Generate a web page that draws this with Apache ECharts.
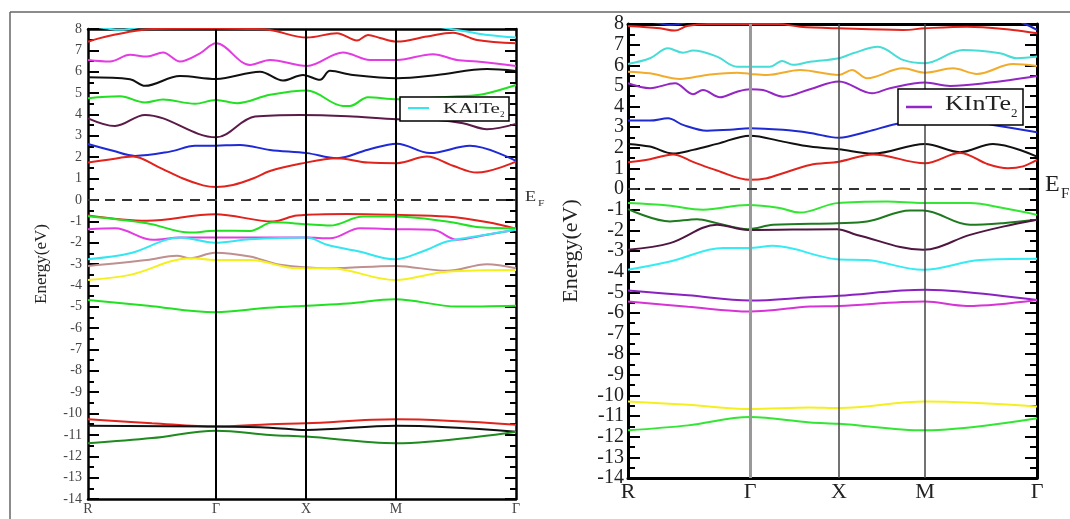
<!DOCTYPE html>
<html><head><meta charset="utf-8">
<script src="https://cdn.jsdelivr.net/npm/echarts@6/dist/echarts.min.js"></script>
<style>html,body{margin:0;padding:0;background:#fff}#c{width:1070px;height:519px}</style>
</head><body><div id="c"></div>
<script>
// ---------- tick labels ----------
const kPathLabels = ['R', 'Γ', 'X', 'M', 'Γ'];
const kalTicks = [0, 128, 218, 308, 428];   // KAlTe2 k-path positions
const kinTicks = [0, 122, 211, 297, 409];   // KInTe2 k-path positions
const energyMin = -14, energyMax = 8;

// ---------- KAlTe2 bands [k, E(eV)] ----------
const kal_cyanTop = [[0,8.2],[20,8.02],[32,7.96],[45,8.03],[60,8.2],[340,8.2],[359,8.03],[380,7.87],[400,7.72],[428,7.6]];
const kal_red8 = [[0,7.4],[10,7.55],[25,7.72],[45,7.9],[65,8.0],[128,8.02],[160,8.0],[182,7.95],[219,7.6],[249,7.8],[269,7.46],[280,7.72],[292,7.58],[309,7.41],[339,7.65],[365,7.83],[389,7.49],[428,7.33]];
const kal_magenta7 = [[0,6.55],[22,6.48],[42,6.79],[59,6.71],[75,6.9],[92,6.48],[112,6.86],[128,7.33],[162,6.32],[182,6.55],[219,6.27],[255,6.9],[282,6.55],[309,6.55],[345,6.82],[369,6.55],[389,6.48],[428,6.27]];
const kal_black6 = [[0,5.74],[42,5.65],[57,5.34],[92,5.8],[128,5.66],[172,6.0],[195,5.59],[215,5.85],[232,5.62],[242,6.04],[265,5.85],[309,5.7],[349,5.85],[399,6.13],[428,6.04]];
const kal_green5 = [[0,4.76],[32,4.85],[57,4.56],[75,4.7],[107,4.5],[128,4.68],[149,4.53],[182,4.92],[219,5.12],[255,4.4],[262,4.4],[280,4.81],[309,4.71],[345,4.78],[370,4.85],[395,4.95],[428,5.38]];
const kal_maroon4 = [[0,3.82],[27,3.46],[57,3.98],[128,2.93],[167,3.9],[212,3.98],[260,3.92],[309,3.78],[350,3.74],[375,3.59],[399,3.31],[428,3.56]];
const kal_blue3 = [[0,2.62],[25,2.3],[47,2.06],[82,2.26],[107,2.53],[128,2.54],[152,2.57],[182,2.34],[219,2.19],[249,1.95],[280,2.35],[309,2.63],[342,2.19],[382,2.53],[428,1.83]];
const kal_redCB = [[0,1.75],[20,1.88],[45,2.03],[70,1.55],[95,1.0],[115,0.68],[128,0.6],[145,0.7],[165,1.0],[182,1.35],[212,1.69],[249,1.95],[280,1.75],[309,1.72],[339,2.03],[365,1.6],[389,1.28],[428,1.79]];
const kal_redVB = [[0,-0.73],[59,-0.98],[127,-0.67],[185,-1.01],[209,-0.73],[259,-0.66],[307,-0.70],[359,-0.78],[400,-1.05],[428,-1.35]];
const kal_greenVB = [[0,-0.76],[59,-1.09],[102,-1.53],[127,-1.44],[162,-1.45],[185,-1.05],[219,-1.14],[242,-1.2],[275,-0.78],[307,-0.78],[359,-1.01],[392,-1.28],[428,-1.33]];
const kal_magentaVB = [[0,-1.37],[27,-1.33],[65,-1.87],[92,-1.76],[127,-1.76],[219,-1.76],[242,-1.8],[272,-1.33],[307,-1.37],[345,-1.4],[369,-1.87],[392,-1.69],[428,-1.4]];
const kal_cyanVB = [[0,-2.78],[42,-2.5],[92,-1.76],[127,-2.0],[162,-1.84],[219,-1.76],[239,-2.1],[270,-2.4],[307,-2.78],[335,-2.4],[359,-1.95],[395,-1.65],[428,-1.4]];
const kal_tanVB = [[0,-3.09],[59,-2.81],[89,-2.61],[102,-2.73],[127,-2.47],[162,-2.65],[192,-3.04],[242,-3.2],[307,-3.09],[359,-3.32],[399,-3.01],[428,-3.2]];
const kal_yellowVB = [[0,-3.75],[42,-3.51],[102,-2.73],[127,-2.81],[162,-2.81],[209,-3.2],[242,-3.2],[307,-3.75],[359,-3.36],[428,-3.28]];
const kal_green5VB = [[0,-4.68],[60,-4.95],[127,-5.26],[180,-5.05],[219,-4.95],[260,-4.85],[307,-4.65],[369,-4.99],[428,-4.95]];
const kal_redSC = [[0,-10.27],[64,-10.45],[128,-10.61],[182,-10.5],[218,-10.46],[308,-10.27],[428,-10.53]];
const kal_blackSC = [[0,-10.57],[128,-10.61],[182,-10.66],[218,-10.77],[308,-10.57],[428,-10.85]];
const kal_dgreenSC = [[0,-11.39],[64,-11.15],[128,-10.8],[182,-11.0],[218,-11.08],[308,-11.39],[428,-10.85]];

// ---------- KInTe2 bands [k, E(eV)] ----------
const kin_blueTop = [[0,8.3],[30,8.05],[42,7.95],[55,8.05],[80,8.3],[380,8.3],[397,8.0],[409,7.72]];
const kin_red8 = [[0,7.9],[32,7.79],[47,7.68],[59,7.9],[80,8.0],[150,8.0],[172,7.87],[211,7.79],[275,7.71],[297,7.79],[339,7.87],[385,7.71],[409,7.55]];
const kin_turq6 = [[0,6.06],[22,6.34],[40,6.82],[55,6.61],[65,6.71],[89,6.42],[109,5.93],[142,5.93],[154,6.21],[165,6.02],[182,6.17],[211,6.34],[225,6.58],[250,6.9],[275,6.26],[297,6.1],[335,6.74],[372,6.58],[389,6.34],[409,6.42]];
const kin_orange5 = [[0,5.69],[22,5.61],[52,5.34],[79,5.53],[109,5.64],[122,5.58],[139,5.53],[172,5.77],[211,5.53],[224,5.77],[239,5.37],[275,5.85],[297,5.64],[325,5.85],[349,5.58],[385,6.06],[409,5.97]];
const kin_purple5 = [[0,5.13],[22,4.89],[47,5.13],[65,4.6],[75,4.8],[92,4.45],[109,4.72],[122,4.84],[135,4.8],[155,4.48],[182,4.84],[211,5.21],[244,4.64],[262,4.89],[297,5.16],[322,5.0],[360,5.15],[409,5.48]];
const kin_blue3 = [[0,3.32],[22,3.32],[40,3.43],[55,3.11],[79,2.83],[102,2.87],[122,2.95],[155,2.87],[182,2.72],[211,2.49],[239,2.78],[272,3.19],[310,3.35],[340,3.3],[365,3.11],[409,2.75]];
const kin_black2 = [[0,2.19],[22,2.06],[45,1.72],[65,1.9],[89,2.19],[122,2.59],[155,2.3],[182,2.06],[211,1.93],[245,1.72],[297,2.19],[332,1.79],[365,2.19],[409,1.57]];
const kin_redCB = [[0,1.3],[22,1.45],[45,1.68],[65,1.32],[89,0.9],[122,0.45],[139,0.53],[155,0.77],[182,1.17],[211,1.33],[245,1.68],[297,1.25],[332,1.75],[360,1.2],[380,1.01],[395,1.1],[409,1.41]];
const kin_greenVB = [[0,-0.68],[40,-0.8],[75,-1.0],[120,-0.77],[150,-0.9],[172,-1.14],[209,-0.68],[259,-0.6],[295,-0.68],[342,-0.68],[375,-0.92],[409,-1.25]];
const kin_dgreenVB = [[0,-0.97],[42,-1.57],[69,-1.46],[89,-1.65],[120,-1.94],[145,-1.73],[209,-1.65],[239,-1.57],[282,-1.04],[295,-1.04],[342,-1.73],[375,-1.65],[409,-1.49]];
const kin_maroonVB = [[0,-2.94],[42,-2.62],[89,-1.73],[120,-1.98],[209,-1.94],[229,-2.22],[295,-2.94],[342,-2.22],[375,-1.82],[409,-1.49]];
const kin_cyanVB = [[0,-3.91],[42,-3.51],[95,-2.86],[120,-2.86],[145,-2.75],[209,-3.4],[239,-3.44],[295,-3.91],[352,-3.44],[409,-3.38]];
const kin_purpleVB = [[0,-4.91],[60,-5.15],[122,-5.4],[182,-5.24],[211,-5.17],[297,-4.88],[332,-4.96],[409,-5.37]];
const kin_magentaVB = [[0,-5.45],[60,-5.7],[122,-5.93],[182,-5.69],[211,-5.66],[297,-5.45],[339,-5.66],[409,-5.37]];
const kin_yellowSC = [[0,-10.29],[60,-10.45],[122,-10.66],[182,-10.58],[211,-10.61],[297,-10.29],[409,-10.53]];
const kin_greenSC = [[0,-11.69],[60,-11.45],[122,-11.05],[182,-11.31],[211,-11.37],[297,-11.69],[409,-11.1]];

// ---------- build ----------
const SERIF = 'Liberation Serif';
const kalBands = [
  [kal_cyanTop,'#33e6f0'],[kal_red8,'#e0231c'],[kal_magenta7,'#e23ce2'],[kal_black6,'#111111'],
  [kal_green5,'#22e022'],[kal_maroon4,'#5c1a48'],[kal_blue3,'#1f2ad6'],[kal_redCB,'#e0231c'],
  [kal_redVB,'#e0231c'],[kal_greenVB,'#22e022'],[kal_magentaVB,'#e23ce2'],[kal_cyanVB,'#33e6f0'],
  [kal_tanVB,'#bf9090'],[kal_yellowVB,'#f4f020'],[kal_green5VB,'#22e022'],
  [kal_redSC,'#e0231c'],[kal_blackSC,'#111111'],[kal_dgreenSC,'#1f8a1f']
];
const kinBands = [
  [kin_blueTop,'#2028c8'],[kin_red8,'#e0231c'],[kin_turq6,'#48dcd6'],[kin_orange5,'#f2ac2c'],
  [kin_purple5,'#9426c4'],[kin_blue3,'#1f2ad0'],[kin_black2,'#111111'],[kin_redCB,'#e0231c'],
  [kin_greenVB,'#33e633'],[kin_dgreenVB,'#1f7a1f'],[kin_maroonVB,'#4e1640'],[kin_cyanVB,'#36ecf4'],
  [kin_purpleVB,'#8a22c0'],[kin_magentaVB,'#d634d6'],[kin_yellowSC,'#f4f020'],[kin_greenSC,'#33e633']
];

function band(d, c, xi, yi) {
  return {type:'line', data:d, xAxisIndex:xi, yAxisIndex:yi, showSymbol:false, smooth:0.35,
          clip:true, silent:true, z:3, lineStyle:{color:c, width:2}, itemStyle:{color:c}};
}
function guides(ticks, xi, yi, vStyleFn) {
  const data = ticks.slice(1, -1).map((t, i) => ({xAxis:t, lineStyle:vStyleFn(i)}));
  data.push({yAxis:0, lineStyle:{color:'#333', width:2, type:[10,7]}});
  return {type:'line', data:[], xAxisIndex:xi, yAxisIndex:yi, z:2,
          markLine:{symbol:'none', silent:true, animation:false, label:{show:false}, data:data}};
}

function kLabel(ticks) {
  return v => { const i = ticks.indexOf(v); return i >= 0 ? kPathLabels[i] : ''; };
}

const series = [];
series.push(guides(kalTicks, 0, 0, () => ({color:'#000', width:2, type:'solid'})));
series.push(guides(kinTicks, 2, 2, i => i === 0 ? {color:'#999', width:3, type:'solid'} : {color:'#444', width:1.5, type:'solid'}));
kalBands.forEach(b => series.push(band(b[0], b[1], 0, 0)));
kinBands.forEach(b => series.push(band(b[0], b[1], 2, 2)));

function yAx(gi, pos, opts) {
  return {type:'value', gridIndex:gi, position:pos, min:energyMin, max:energyMax, interval:1,
    axisLine:{show:true, onZero:false, lineStyle:{color:'#000', width:opts.lw}},
    axisTick:{show:true, inside:true, length:opts.tl, lineStyle:{color:'#000', width:2}},
    minorTick:{show:true, splitNumber:2, length:opts.ml, lineStyle:{color:'#000', width:2}},
    splitLine:{show:false},
    axisLabel:{show:opts.labels, margin:opts.margin, fontFamily:SERIF, fontSize:opts.fs, color:opts.col,
               showMinLabel:true, showMaxLabel:true, hideOverlap:false},
    name:opts.labels ? 'Energy(eV)' : '', nameLocation:'middle', nameGap:opts.ng,
    nameTextStyle:{fontFamily:SERIF, fontSize:opts.nfs, color:'#222'}};
}
function xAx(gi, pos, ticks, opts) {
  return {type:'value', gridIndex:gi, position:pos, min:0, max:ticks[ticks.length-1],
    axisLine:{show:true, onZero:false, lineStyle:{color:'#000', width:opts.lw}},
    axisTick:{show:false}, splitLine:{show:false},
    axisLabel:{show:pos === 'bottom', customValues:ticks, formatter:kLabel(ticks), margin:opts.margin,
               fontFamily:SERIF, fontSize:opts.fs, color:opts.col, showMinLabel:true, showMaxLabel:true, hideOverlap:false}};
}

const leftY = {lw:2.5, tl:11, ml:6, labels:true, margin:6, fs:14, col:'#444', ng:38, nfs:17};
const rightY = {lw:3, tl:12, ml:7, labels:true, margin:4, fs:20, col:'#222', ng:46, nfs:22};

const option = {
  animation:false,
  backgroundColor:'#fff',
  grid:[
    {left:88, top:29, width:428, height:470},
    {left:628, top:24, width:409, height:454}
  ],
  xAxis:[
    xAx(0,'bottom',kalTicks,{lw:2.5, margin:3, fs:14, col:'#444'}),
    xAx(0,'top',kalTicks,{lw:2.5}),
    xAx(1,'bottom',kinTicks,{lw:3, margin:3, fs:22, col:'#222'}),
    xAx(1,'top',kinTicks,{lw:3})
  ],
  yAxis:[
    yAx(0,'left',leftY),
    yAx(0,'right',Object.assign({}, leftY, {labels:false})),
    yAx(1,'left',rightY),
    yAx(1,'right',Object.assign({}, rightY, {labels:false}))
  ],
  series:series,
  graphic:[
    {type:'line', shape:{x1:10, y1:12, x2:1070, y2:12}, style:{stroke:'#666', lineWidth:1.5}, silent:true},
    {type:'line', shape:{x1:10, y1:12, x2:10, y2:519}, style:{stroke:'#666', lineWidth:1.5}, silent:true},
    // KAlTe2 legend
    {type:'rect', shape:{x:400, y:97, width:109, height:24}, style:{fill:'#fff', stroke:'#000', lineWidth:1.5}, z:10},
    {type:'line', shape:{x1:408, y1:108, x2:429, y2:108}, style:{stroke:'#33e6f0', lineWidth:2}, z:11},
    {type:'text', x:443, y:109, scaleX:1.4, style:{text:'KAlTe', font:'15px "Liberation Serif"', fill:'#222', verticalAlign:'middle'}, z:11},
    {type:'text', x:500, y:115, style:{text:'2', font:'9px "Liberation Serif"', fill:'#222', verticalAlign:'middle'}, z:11},
    // KInTe2 legend
    {type:'rect', shape:{x:898, y:89, width:125, height:36}, style:{fill:'#fff', stroke:'#000', lineWidth:1.5}, z:10},
    {type:'line', shape:{x1:906, y1:107, x2:932, y2:107}, style:{stroke:'#9426c4', lineWidth:2.5}, z:11},
    {type:'text', x:945, y:104, scaleX:1.18, style:{text:'KInTe', font:'22px "Liberation Serif"', fill:'#222', verticalAlign:'middle'}, z:11},
    {type:'text', x:1011, y:114, style:{text:'2', font:'13px "Liberation Serif"', fill:'#222', verticalAlign:'middle'}, z:11},
    // Fermi labels
    {type:'text', x:525, y:197, scaleX:1.3, style:{text:'E', font:'14px "Liberation Serif"', fill:'#333', verticalAlign:'middle'}},
    {type:'text', x:538, y:204, scaleX:1.3, style:{text:'F', font:'9px "Liberation Serif"', fill:'#333', verticalAlign:'middle'}},
    {type:'text', x:1045, y:185, style:{text:'E', font:'24px "Liberation Serif"', fill:'#222', verticalAlign:'middle'}},
    {type:'text', x:1061, y:194, style:{text:'F', font:'15px "Liberation Serif"', fill:'#222', verticalAlign:'middle'}}
  ]
};
const chart = echarts.init(document.getElementById('c'), null, {renderer:'canvas'});
chart.setOption(option);
</script></body></html>
